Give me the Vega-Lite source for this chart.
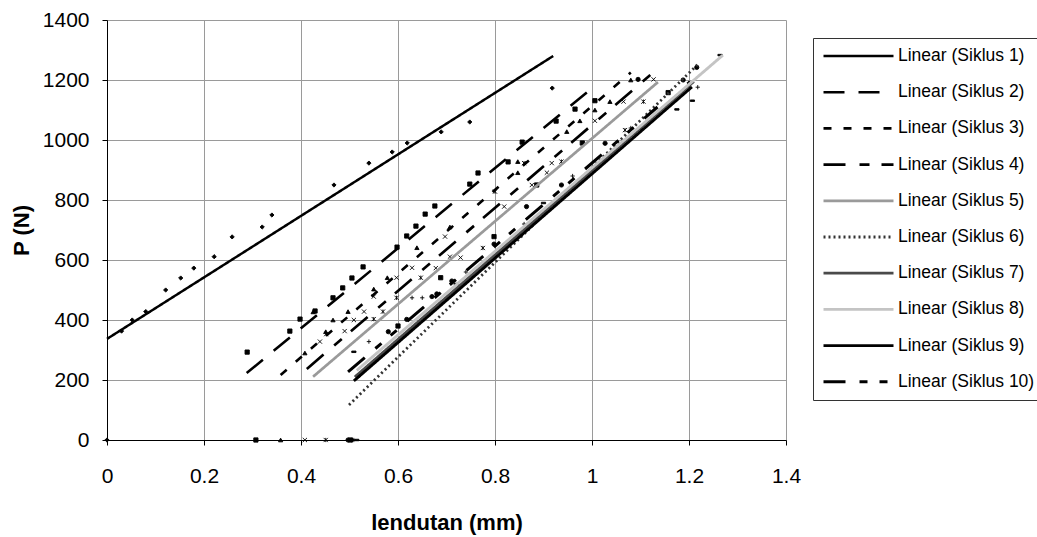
{
  "$schema": "https://vega.github.io/schema/vega-lite/v6.json",
  "width": 679,
  "height": 420,
  "autosize": {"type": "none"},
  "padding": {"left": 107, "top": 20, "right": 251, "bottom": 97},
  "background": "white",
  "config": {
    "font": "Liberation Sans",
    "view": {"stroke": null},
    "axis": {
      "grid": true,
      "gridColor": "#9a9a9a",
      "gridWidth": 1,
      "domainColor": "black",
      "domainWidth": 1,
      "tickColor": "black",
      "tickSize": 5,
      "labelColor": "black",
      "labelFont": "Liberation Sans",
      "labelFontSize": 21,
      "titleColor": "black",
      "titleFont": "Liberation Sans",
      "titleFontSize": 22,
      "titleFontWeight": "bold"
    },
    "legend": {
      "orient": "none",
      "legendX": 706,
      "legendY": 18,
      "strokeColor": "#333333",
      "fillColor": "white",
      "padding": 9,
      "symbolType": "stroke",
      "symbolSize": 4900,
      "clipHeight": 18,
      "labelFont": "Liberation Sans",
      "labelFontSize": 17.5,
      "labelColor": "black",
      "labelOffset": 3,
      "rowPadding": 18.2
    }
  },
  "datasets": {
    "points": [
      {"s": "1", "x": 0, "y": 0}, {"s": "1", "x": 0.03, "y": 363}, {"s": "1", "x": 0.052, "y": 400}, {"s": "1", "x": 0.08, "y": 428}, {"s": "1", "x": 0.121, "y": 500}, {"s": "1", "x": 0.152, "y": 540}, {"s": "1", "x": 0.179, "y": 573}, {"s": "1", "x": 0.221, "y": 611}, {"s": "1", "x": 0.258, "y": 677}, {"s": "1", "x": 0.32, "y": 710}, {"s": "1", "x": 0.34, "y": 750}, {"s": "1", "x": 0.468, "y": 850}, {"s": "1", "x": 0.54, "y": 923}, {"s": "1", "x": 0.588, "y": 960}, {"s": "1", "x": 0.619, "y": 990}, {"s": "1", "x": 0.689, "y": 1027}, {"s": "1", "x": 0.748, "y": 1060}, {"s": "1", "x": 0.918, "y": 1173},
      {"s": "2", "x": 0.307, "y": 0}, {"s": "2", "x": 0.289, "y": 293}, {"s": "2", "x": 0.377, "y": 363}, {"s": "2", "x": 0.398, "y": 403}, {"s": "2", "x": 0.429, "y": 430}, {"s": "2", "x": 0.466, "y": 474}, {"s": "2", "x": 0.486, "y": 507}, {"s": "2", "x": 0.505, "y": 540}, {"s": "2", "x": 0.528, "y": 577}, {"s": "2", "x": 0.598, "y": 643}, {"s": "2", "x": 0.618, "y": 680}, {"s": "2", "x": 0.637, "y": 713}, {"s": "2", "x": 0.656, "y": 753}, {"s": "2", "x": 0.676, "y": 780}, {"s": "2", "x": 0.748, "y": 853}, {"s": "2", "x": 0.765, "y": 890}, {"s": "2", "x": 0.827, "y": 927}, {"s": "2", "x": 0.856, "y": 993}, {"s": "2", "x": 0.926, "y": 1063}, {"s": "2", "x": 0.965, "y": 1103}, {"s": "2", "x": 1.006, "y": 1131},
      {"s": "3", "x": 0.358, "y": 0}, {"s": "3", "x": 0.408, "y": 290}, {"s": "3", "x": 0.425, "y": 427}, {"s": "3", "x": 0.451, "y": 361}, {"s": "3", "x": 0.466, "y": 400}, {"s": "3", "x": 0.497, "y": 428}, {"s": "3", "x": 0.55, "y": 503}, {"s": "3", "x": 0.578, "y": 541}, {"s": "3", "x": 0.639, "y": 641}, {"s": "3", "x": 0.707, "y": 710}, {"s": "3", "x": 0.847, "y": 891}, {"s": "3", "x": 0.847, "y": 928}, {"s": "3", "x": 0.948, "y": 1028}, {"s": "3", "x": 0.975, "y": 1064}, {"s": "3", "x": 1.006, "y": 1100}, {"s": "3", "x": 1.037, "y": 1128}, {"s": "3", "x": 1.08, "y": 1200},
      {"s": "4", "x": 0.408, "y": 0}, {"s": "4", "x": 0.439, "y": 328}, {"s": "4", "x": 0.49, "y": 363}, {"s": "4", "x": 0.509, "y": 400}, {"s": "4", "x": 0.53, "y": 428}, {"s": "4", "x": 0.55, "y": 478}, {"s": "4", "x": 0.597, "y": 541}, {"s": "4", "x": 0.629, "y": 574}, {"s": "4", "x": 0.678, "y": 573}, {"s": "4", "x": 0.697, "y": 678}, {"s": "4", "x": 0.707, "y": 611}, {"s": "4", "x": 0.729, "y": 608}, {"s": "4", "x": 0.819, "y": 778}, {"s": "4", "x": 0.876, "y": 850}, {"s": "4", "x": 0.907, "y": 891}, {"s": "4", "x": 0.917, "y": 923}, {"s": "4", "x": 1.006, "y": 1064}, {"s": "4", "x": 1.065, "y": 1128}, {"s": "4", "x": 1.127, "y": 1202},
      {"s": "5", "x": 0.451, "y": 0}, {"s": "5", "x": 0.452, "y": 353}, {"s": "5", "x": 0.55, "y": 403}, {"s": "5", "x": 0.569, "y": 428}, {"s": "5", "x": 0.597, "y": 474}, {"s": "5", "x": 0.647, "y": 541}, {"s": "5", "x": 0.775, "y": 640}, {"s": "5", "x": 0.8, "y": 828}, {"s": "5", "x": 0.86, "y": 923}, {"s": "5", "x": 0.937, "y": 928}, {"s": "5", "x": 1.068, "y": 1033}, {"s": "5", "x": 1.106, "y": 1128},
      {"s": "6", "x": 0.497, "y": 0}, {"s": "6", "x": 0.58, "y": 361}, {"s": "6", "x": 0.618, "y": 402}, {"s": "6", "x": 0.67, "y": 478}, {"s": "6", "x": 0.68, "y": 487}, {"s": "6", "x": 0.711, "y": 530}, {"s": "6", "x": 0.798, "y": 653}, {"s": "6", "x": 0.865, "y": 778}, {"s": "6", "x": 0.937, "y": 850}, {"s": "6", "x": 1.027, "y": 989}, {"s": "6", "x": 1.095, "y": 1202}, {"s": "6", "x": 1.188, "y": 1200}, {"s": "6", "x": 1.216, "y": 1242},
      {"s": "7", "x": 0.509, "y": 0}, {"s": "7", "x": 0.54, "y": 328}, {"s": "7", "x": 0.629, "y": 474}, {"s": "7", "x": 0.65, "y": 474}, {"s": "7", "x": 0.74, "y": 560}, {"s": "7", "x": 0.86, "y": 720}, {"s": "7", "x": 0.96, "y": 880}, {"s": "7", "x": 1.08, "y": 1040}, {"s": "7", "x": 1.218, "y": 1176},
      {"s": "8", "x": 0.515, "y": 0}, {"s": "8", "x": 0.509, "y": 294}, {"s": "8", "x": 0.72, "y": 520}, {"s": "8", "x": 0.9, "y": 790}, {"s": "8", "x": 1.175, "y": 1102}, {"s": "8", "x": 1.207, "y": 1131}, {"s": "8", "x": 1.264, "y": 1283},
      {"s": "9", "x": 0.505, "y": 0}, {"s": "9", "x": 0.52, "y": 215}, {"s": "9", "x": 0.7, "y": 470}, {"s": "9", "x": 0.9, "y": 760}, {"s": "9", "x": 1.1, "y": 1040}, {"s": "9", "x": 1.2, "y": 1190},
      {"s": "10", "x": 0.502, "y": 0}, {"s": "10", "x": 0.6, "y": 380}, {"s": "10", "x": 0.688, "y": 541}, {"s": "10", "x": 0.798, "y": 678}, {"s": "10", "x": 0.886, "y": 850}, {"s": "10", "x": 0.98, "y": 990}, {"s": "10", "x": 1.157, "y": 1158}
    ],
    "trends": [
      {"trend": "Linear (Siklus 1)", "x": 0, "y": 337}, {"trend": "Linear (Siklus 1)", "x": 0.92, "y": 1280},
      {"trend": "Linear (Siklus 2)", "x": 0.288, "y": 223}, {"trend": "Linear (Siklus 2)", "x": 1.0, "y": 1173},
      {"trend": "Linear (Siklus 3)", "x": 0.358, "y": 217}, {"trend": "Linear (Siklus 3)", "x": 1.08, "y": 1225},
      {"trend": "Linear (Siklus 4)", "x": 0.412, "y": 237}, {"trend": "Linear (Siklus 4)", "x": 1.13, "y": 1230},
      {"trend": "Linear (Siklus 5)", "x": 0.425, "y": 211}, {"trend": "Linear (Siklus 5)", "x": 1.136, "y": 1193},
      {"trend": "Linear (Siklus 6)", "x": 0.499, "y": 117}, {"trend": "Linear (Siklus 6)", "x": 1.22, "y": 1255},
      {"trend": "Linear (Siklus 7)", "x": 0.511, "y": 210}, {"trend": "Linear (Siklus 7)", "x": 1.21, "y": 1195},
      {"trend": "Linear (Siklus 8)", "x": 0.515, "y": 232}, {"trend": "Linear (Siklus 8)", "x": 1.27, "y": 1283},
      {"trend": "Linear (Siklus 9)", "x": 0.509, "y": 197}, {"trend": "Linear (Siklus 9)", "x": 1.206, "y": 1177},
      {"trend": "Linear (Siklus 10)", "x": 0.497, "y": 227}, {"trend": "Linear (Siklus 10)", "x": 1.135, "y": 1110}
    ]
  },
  "layer": [
    {
      "data": {"name": "points"},
      "mark": {"type": "point", "filled": true, "size": 18, "fill": "black", "stroke": "black", "strokeWidth": 0.9, "opacity": 1},
      "encoding": {
        "x": {
          "field": "x", "type": "quantitative",
          "scale": {"domain": [0, 1.4], "nice": false, "zero": false},
          "axis": {"values": [0, 0.2, 0.4, 0.6, 0.8, 1, 1.2, 1.4], "format": "~g", "title": "lendutan (mm)", "labelPadding": 20, "titlePadding": 26, "labelFlush": false}
        },
        "y": {
          "field": "y", "type": "quantitative",
          "scale": {"domain": [0, 1400], "nice": false},
          "axis": {"values": [0, 200, 400, 600, 800, 1000, 1200, 1400], "format": "d", "title": "P (N)", "labelPadding": 13, "titlePadding": 9, "labelFlush": false}
        },
        "shape": {
          "field": "s", "type": "nominal",
          "scale": {
            "domain": ["1", "2", "3", "4", "5", "6", "7", "8", "9", "10"],
            "range": ["diamond", "square", "triangle-up", "M-1,-1L1,1M-1,1L1,-1", "M-1,-1L1,1M-1,1L1,-1M0,-1L0,1", "circle", "M-1,0L1,0M0,-1L0,1", "M-1,-0.35L1,-0.35L1,0.35L-1,0.35Z", "diamond", "square"]
          },
          "legend": null
        }
      }
    },
    {
      "data": {"name": "trends"},
      "mark": {"type": "line", "strokeCap": "butt"},
      "encoding": {
        "x": {"field": "x", "type": "quantitative"},
        "y": {"field": "y", "type": "quantitative"},
        "color": {
          "field": "trend", "type": "nominal",
          "scale": {
            "domain": ["Linear (Siklus 1)", "Linear (Siklus 2)", "Linear (Siklus 3)", "Linear (Siklus 4)", "Linear (Siklus 5)", "Linear (Siklus 6)", "Linear (Siklus 7)", "Linear (Siklus 8)", "Linear (Siklus 9)", "Linear (Siklus 10)"],
            "range": ["#000000", "#000000", "#000000", "#000000", "#9a9a9a", "#333333", "#4a4a4a", "#c4c4c4", "#000000", "#000000"]
          },
          "legend": {"title": null}
        },
        "strokeDash": {
          "field": "trend", "type": "nominal",
          "scale": {
            "domain": ["Linear (Siklus 1)", "Linear (Siklus 2)", "Linear (Siklus 3)", "Linear (Siklus 4)", "Linear (Siklus 5)", "Linear (Siklus 6)", "Linear (Siklus 7)", "Linear (Siklus 8)", "Linear (Siklus 9)", "Linear (Siklus 10)"],
            "range": [[1, 0], [21, 14], [8, 12], [22, 14, 10, 12], [1, 0], [2, 3], [1, 0], [1, 0], [1, 0], [22, 14, 8, 12, 8, 14]]
          },
          "legend": {"title": null}
        },
        "strokeWidth": {
          "field": "trend", "type": "ordinal",
          "scale": {
            "domain": ["Linear (Siklus 1)", "Linear (Siklus 2)", "Linear (Siklus 3)", "Linear (Siklus 4)", "Linear (Siklus 5)", "Linear (Siklus 6)", "Linear (Siklus 7)", "Linear (Siklus 8)", "Linear (Siklus 9)", "Linear (Siklus 10)"],
            "range": [2.5, 3, 3, 3, 4, 1, 5, 4, 5, 3]
          },
          "legend": {"title": null}
        }
      }
    }
  ]
}
